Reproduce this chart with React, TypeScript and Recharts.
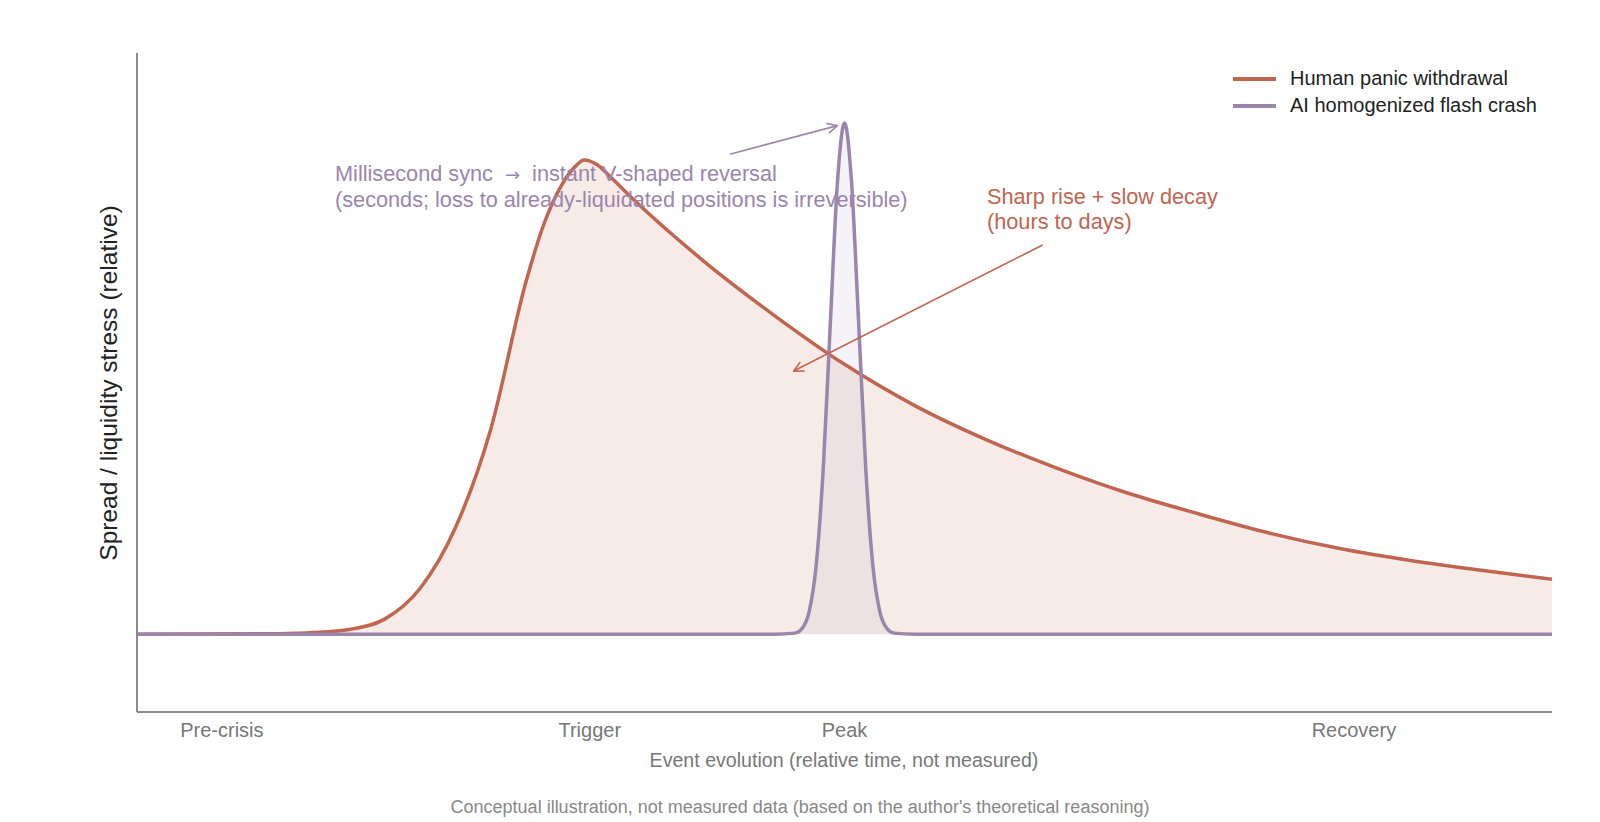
// Conceptual stress curves: slow human panic vs. AI flash crash.
import { Area, ComposedChart, Line, ReferenceLine, XAxis, YAxis } from 'recharts';

const HUMAN = '#C0654F';
const AI = '#9A85AC';
const AXIS = '#8a8a8a';
const MUTED = '#777';
const FONT = '"Liberation Sans", Arial, Helvetica, sans-serif';

// x positions are relative event time (0..10), y is relative stress
const HUMAN_X = [0, 1.0, 1.25, 1.5, 1.75, 2.0, 2.25, 2.5, 2.75, 2.875, 3.0, 3.1, 3.16, 3.25, 3.35, 3.5, 4.0, 4.5, 5.0, 5.5, 6.0, 6.5, 7.0, 7.5, 8.0, 8.5, 9.0, 9.5, 10];
const HUMAN_Y = [0, 0.001, 0.003, 0.009, 0.029, 0.088, 0.205, 0.395, 0.68, 0.79, 0.865, 0.902, 0.914, 0.905, 0.88, 0.84, 0.72, 0.615, 0.52, 0.44, 0.375, 0.32, 0.272, 0.232, 0.195, 0.165, 0.142, 0.123, 0.106];

const AI_X = [0, 4.5, 4.65, 4.7, 4.75, 4.8, 4.85, 4.9, 4.95, 5.0, 5.05, 5.1, 5.15, 5.2, 5.25, 5.3, 5.35, 5.5, 10];
const AI_Y = [0, 0, 0.002, 0.011, 0.043, 0.133, 0.32, 0.6, 0.87, 0.985, 0.87, 0.6, 0.32, 0.133, 0.043, 0.011, 0.002, 0, 0];

const TICK_VALUES = [0.6, 3.2, 5.0, 8.6];
const TICK_LABELS = ['Pre-crisis', 'Trigger', 'Peak', 'Recovery'];

const SERIES_NAMES = ['Human panic withdrawal', 'AI homogenized flash crash'];
const SERIES_COLORS = [HUMAN, AI];

const human = HUMAN_X.map((x, i) => ({ x, y: HUMAN_Y[i] }));
const ai = AI_X.map((x, i) => ({ x, y: AI_Y[i] }));

// annotation arrows, in data coordinates
const AI_ARROW = [{ x: 4.19, y: 0.925 }, { x: 4.95, y: 0.98 }];
const HUMAN_ARROW = [{ x: 6.4, y: 0.75 }, { x: 4.64, y: 0.507 }];

function arrowShape(marker: string, color: string) {
  return (p: any) => (
    <line x1={p.x1} y1={p.y1} x2={p.x2} y2={p.y2} stroke={color} strokeWidth={1.6} markerEnd={`url(#${marker})`} />
  );
}

export default function App() {
  return (
    <div style={{ position: 'absolute', left: 0, top: 0, width: 1600, height: 822, background: '#fff', fontFamily: FONT }}>
      <svg width={0} height={0} style={{ position: 'absolute' }}>
        <defs>
          <marker id="arrow-ai" viewBox="0 0 12 12" refX={11} refY={6} markerWidth={12} markerHeight={12} markerUnits="userSpaceOnUse" orient="auto">
            <path d="M1,1 L11,6 L1,11" fill="none" stroke={AI} strokeWidth={1.6} />
          </marker>
          <marker id="arrow-human" viewBox="0 0 12 12" refX={11} refY={6} markerWidth={12} markerHeight={12} markerUnits="userSpaceOnUse" orient="auto">
            <path d="M1,1 L11,6 L1,11" fill="none" stroke={HUMAN} strokeWidth={1.6} />
          </marker>
        </defs>
      </svg>

      <ComposedChart width={1600} height={822} margin={{ top: 53, right: 48, bottom: 50, left: 97 }}>
        <XAxis
          type="number"
          dataKey="x"
          domain={[0, 10]}
          allowDataOverflow
          ticks={TICK_VALUES}
          tickFormatter={(v: number) => TICK_LABELS[TICK_VALUES.indexOf(v)] ?? ''}
          tickLine={false}
          tickSize={0}
          tickMargin={11}
          height={60}
          axisLine={{ stroke: AXIS, strokeWidth: 2 }}
          tick={{ fill: MUTED, fontSize: 20, fontFamily: FONT }}
        />
        <YAxis
          type="number"
          domain={[-0.15, 1.12]}
          allowDataOverflow
          tick={false}
          tickLine={false}
          width={40}
          axisLine={{ stroke: AXIS, strokeWidth: 2 }}
        />
        <Area data={human} dataKey="y" type="monotone" baseValue={0} stroke="none" fill={HUMAN} fillOpacity={0.13} isAnimationActive={false} />
        <Area data={ai} dataKey="y" type="monotone" baseValue={0} stroke="none" fill={AI} fillOpacity={0.1} isAnimationActive={false} />
        <Line data={human} dataKey="y" type="monotone" stroke={HUMAN} strokeWidth={3.5} dot={false} activeDot={false} isAnimationActive={false} />
        <Line data={ai} dataKey="y" type="monotone" stroke={AI} strokeWidth={3.5} dot={false} activeDot={false} isAnimationActive={false} />
        <ReferenceLine segment={AI_ARROW} ifOverflow="visible" shape={arrowShape('arrow-ai', AI)} />
        <ReferenceLine segment={HUMAN_ARROW} ifOverflow="visible" shape={arrowShape('arrow-human', HUMAN)} />
      </ComposedChart>

      <div style={{ position: 'absolute', left: 1233, top: 65, fontSize: 20, color: '#222' }}>
        {SERIES_NAMES.map((name, i) => (
          <div key={name} style={{ display: 'flex', alignItems: 'center', height: 27 }}>
            <span style={{ display: 'inline-block', width: 43, height: 4, background: SERIES_COLORS[i], marginRight: 14 }} />
            <span>{name}</span>
          </div>
        ))}
      </div>

      <div style={{ position: 'absolute', left: 335, top: 161, fontSize: 21.7, lineHeight: '25px', color: AI, whiteSpace: 'pre' }}>
        {'Millisecond sync  '}
        <span style={{ fontFamily: '"DejaVu Sans", sans-serif', fontSize: 18 }}>{'\u2192'}</span>
        {'  instant V-shaped reversal'}
        <br />
        (seconds; loss to already-liquidated positions is irreversible)
      </div>
      <div style={{ position: 'absolute', left: 987, top: 184, fontSize: 21.7, lineHeight: '25px', color: HUMAN, whiteSpace: 'nowrap' }}>
        Sharp rise + slow decay
        <br />
        (hours to days)
      </div>

      <div style={{ position: 'absolute', left: 109, top: 383, transform: 'translate(-50%, -50%) rotate(-90deg)', fontSize: 24.5, color: '#222', whiteSpace: 'nowrap' }}>
        Spread / liquidity stress (relative)
      </div>
      <div style={{ position: 'absolute', left: 844, top: 760, transform: 'translate(-50%, -50%)', fontSize: 19.6, color: MUTED, whiteSpace: 'nowrap' }}>
        Event evolution (relative time, not measured)
      </div>
      <div style={{ position: 'absolute', left: 800, top: 807, transform: 'translate(-50%, -50%)', fontSize: 18, color: '#888', whiteSpace: 'nowrap' }}>
        Conceptual illustration, not measured data (based on the author's theoretical reasoning)
      </div>
    </div>
  );
}
